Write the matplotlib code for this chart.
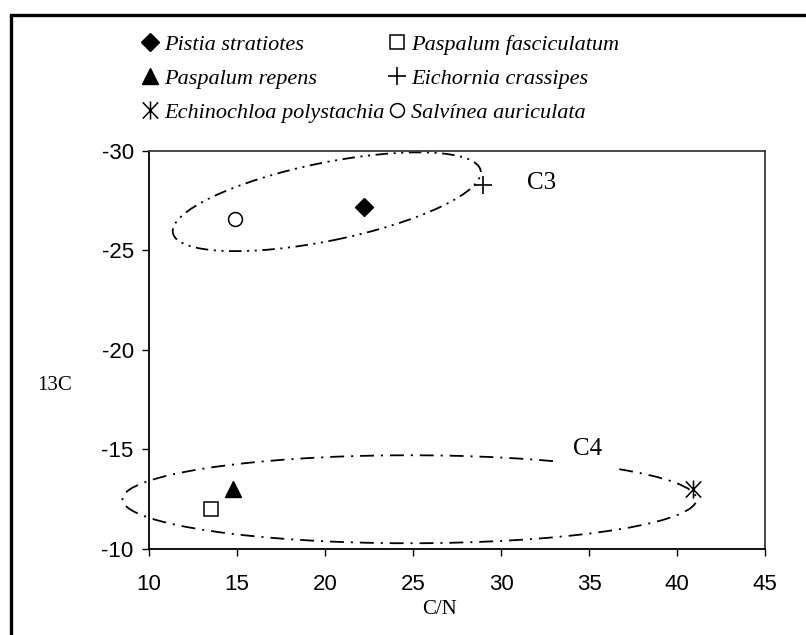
import numpy as np
import matplotlib
matplotlib.use("Agg")
import matplotlib.pyplot as plt
from matplotlib.patches import Ellipse, Arc, Rectangle
from matplotlib.path import Path
from matplotlib.transforms import ScaledTranslation

plt.rcParams['lines.scale_dashes'] = False
plt.rcParams['axes.unicode_minus'] = False

# ---- data ----
species = ["Pistia stratiotes", "Paspalum fasciculatum", "Paspalum repens",
           "Eichornia crassipes", "Echinochloa polystachia", "Salvínea auriculata"]
cn_values = [22.2, 13.5, 14.8, 29.0, 40.9, 14.9]
c13_values = [-27.2, -12.0, -13.0, -28.3, -13.0, -26.6]

x_ticks = [10, 15, 20, 25, 30, 35, 40, 45]
y_ticks = [-30, -25, -20, -15, -10]

# group ellipses (center in data units, size in inches, angle in degrees)
c3_center = (20.1, -27.45)
c3_size = (3.14, 0.78)
c3_angle = 11.5
c4_center = (24.8, -12.5)
c4_size = (5.74, 0.88)
c4_gap = (44.0, 60.0)   # parametric angles of the gap under label C4

# ---- styles ----
asterisk = Path([(0, -1), (0, 1), (-0.85, -0.9), (0.85, 0.9), (-0.85, 0.9), (0.85, -0.9)],
                [Path.MOVETO, Path.LINETO] * 3)
styles = {
    "Pistia stratiotes": dict(marker="D", ms=9.5, mfc="black", mec="black"),
    "Paspalum fasciculatum": dict(marker="s", ms=10, mfc="white", mec="black", mew=1.1),
    "Paspalum repens": dict(marker="^", ms=11, mfc="black", mec="black"),
    "Eichornia crassipes": dict(marker="+", ms=13, mfc="none", mec="black", mew=1.2),
    "Echinochloa polystachia": dict(marker=asterisk, ms=13, mfc="none", mec="black", mew=1.1),
    "Salvínea auriculata": dict(marker="o", ms=10, mfc="white", mec="black", mew=1.1),
}

serif = "Liberation Serif"
sans = "Liberation Sans"

fig = plt.figure(figsize=(8.06, 6.35), dpi=100)
ax = fig.add_axes([149 / 806, 86 / 635, 616 / 806, 398 / 635])

for name, x, y in zip(species, cn_values, c13_values):
    ax.plot([x], [y], linestyle="none", label=name, clip_on=False, zorder=3,
            **styles[name])

ax.set_xlim(10, 45)
ax.set_ylim(-10, -30)
ax.set_xticks(x_ticks)
ax.set_yticks(y_ticks)
ax.tick_params(direction="out", length=5, width=1, labelsize=16)
ax.tick_params(axis="x", pad=13)
ax.tick_params(axis="y", pad=6)
for lab in ax.get_xticklabels() + ax.get_yticklabels():
    lab.set_fontfamily(sans)
for s in ("left", "bottom"):
    ax.spines[s].set_linewidth(1.3)
    ax.spines[s].set_color("black")
for s in ("top", "right"):
    ax.spines[s].set_linewidth(1.3)
    ax.spines[s].set_color("#3a3a3a")

ax.set_xlabel("C/N", fontfamily=serif, fontsize=15)
ax.xaxis.set_label_coords(0.472, -0.128)
ax.set_ylabel("13C", fontfamily=serif, fontsize=15, rotation=0, va="center", ha="center")
ax.yaxis.set_label_coords(-0.153, 0.412)

dash = (0, (9, 4, 1.5, 4, 1.5, 4))
dash4 = (0, (10, 5, 1.5, 5))

tr3 = fig.dpi_scale_trans + ScaledTranslation(c3_center[0], c3_center[1], ax.transData)
ax.add_patch(Ellipse((0, 0), c3_size[0], c3_size[1], angle=c3_angle, transform=tr3,
                     fill=False, lw=1.3, ls=dash, ec="black", clip_on=False))

w4, h4 = c4_size
tr4 = fig.dpi_scale_trans + ScaledTranslation(c4_center[0], c4_center[1], ax.transData)
def geo(p):
    p = np.deg2rad(p)
    return np.rad2deg(np.arctan2(h4 * np.sin(p), w4 * np.cos(p)))
ax.add_patch(Arc((0, 0), w4, h4, theta1=geo(c4_gap[1]), theta2=geo(c4_gap[0]) + 360,
                 transform=tr4, lw=1.3, ls=dash4, ec="black", clip_on=False))

ax.text(31.5, -28.4, "C3", fontfamily=serif, fontsize=18, va="center", ha="left")
ax.text(34.1, -15.05, "C4", fontfamily=serif, fontsize=18, va="center", ha="left")

order = [0, 2, 4, 1, 3, 5]
handles, labels = ax.get_legend_handles_labels()
leg = fig.legend([handles[i] for i in order], [labels[i] for i in order],
                 loc="upper left", bbox_to_anchor=(143 / 806, 1 - 34 / 635), ncol=2,
                 frameon=False, handlelength=0.65, handletextpad=0.3,
                 columnspacing=0.25, labelspacing=0.62,
                 prop=dict(family=serif, style="italic", size=16), borderaxespad=0,
                 borderpad=0)

fig.patches.append(Rectangle((11 / 806, -0.1), 1.2, (635 - 14.7) / 635 + 0.1,
                             transform=fig.transFigure, fill=False, lw=2.4,
                             ec="black", clip_on=False))

fig.savefig("out.png", dpi=100)
